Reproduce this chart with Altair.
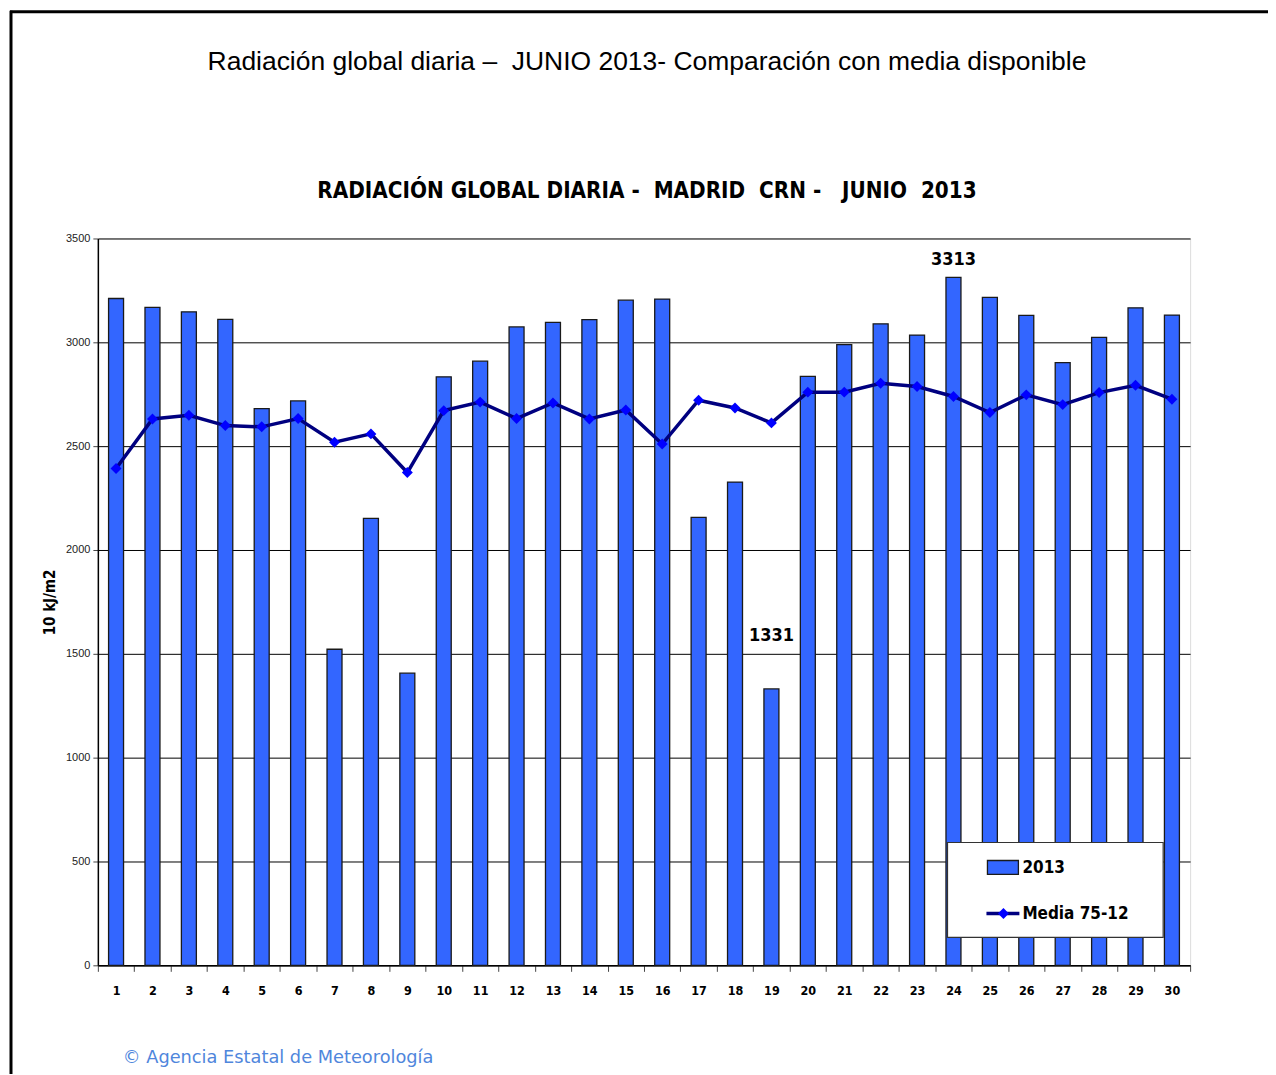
import altair as alt
import pandas as pd

# ---- data ----
dias = list(range(1, 31))
rad_2013 = [3211, 3168, 3147, 3110, 2681, 2718, 1522, 2152, 1407, 2834,
            2909, 3074, 3096, 3109, 3203, 3208, 2157, 2327, 1331, 2836,
            2989, 3089, 3035, 3313, 3216, 3130, 2902, 3024, 3166, 3131]
media_75_12 = [2392, 2631, 2649, 2599, 2593, 2633, 2519, 2559, 2373, 2671,
               2712, 2633, 2708, 2631, 2674, 2510, 2721, 2684, 2612, 2760,
               2760, 2803, 2787, 2739, 2662, 2747, 2700, 2758, 2793, 2726]
y_ticks = [0, 500, 1000, 1500, 2000, 2500, 3000, 3500]

NB = "\u00a0"
titulo = "Radiación global diaria –" + NB + " JUNIO 2013- Comparación con media disponible"
subtitulo = ("RADIACIÓN GLOBAL DIARIA -" + NB + " MADRID" + NB + " CRN -" + NB + NB +
             " JUNIO" + NB + " 2013")
y_titulo = "10 kJ/m2"
leyenda = ["2013", "Media 75-12"]
pie = "© Agencia Estatal de Meteorología"

df = pd.DataFrame({"dia": dias, "rad": rad_2013, "media": media_75_12})

NARROW = "DejaVu Sans Condensed, Liberation Sans Narrow, Liberation Sans"
ARIAL = "Liberation Sans, Arial"

W, H = 1094, 728

x = alt.X("dia:O", scale=alt.Scale(paddingInner=0, paddingOuter=0),
          axis=alt.Axis(title=None, labelAngle=0, labelFont=NARROW, labelFontSize=12.5,
                        labelFontWeight="bold", labelColor="black", labelPadding=13,
                        tickBand="extent", tickSize=6, tickColor="#444", domainColor="black",
                        domainWidth=1.5))
yscale = alt.Scale(domain=[0, 3500], nice=False)

bars = alt.Chart(df).mark_bar(size=15, fill="#3366FF", stroke="#1a1a1a", strokeWidth=1.3).encode(
    x=x,
    y=alt.Y("rad:Q", scale=yscale,
            axis=alt.Axis(values=y_ticks, format="d", title=y_titulo, titleFont=NARROW,
                          titleFontSize=15, titleFontWeight="bold", titleColor="black",
                          titlePadding=8, labelFont=ARIAL, labelFontSize=11, labelColor="#222",
                          grid=True, gridColor="black", gridWidth=1, tickSize=5,
                          tickColor="#444", domainColor="black", domainWidth=1.5,
                          labelPadding=3)),
)

line = alt.Chart(df).mark_line(color="#000080", strokeWidth=3.5).encode(
    x="dia:O", y=alt.Y("media:Q", scale=yscale))
pts = alt.Chart(df).mark_point(shape="diamond", filled=True, color="#0000FF", size=120, opacity=1).encode(
    x="dia:O", y=alt.Y("media:Q", scale=yscale))

lab_max = alt.Chart(df).transform_filter(alt.datum.dia == 24).mark_text(
    font=NARROW, fontSize=18, fontWeight="bold", baseline="bottom", dy=-8, color="black").encode(
    x="dia:O", y=alt.Y("rad:Q", scale=yscale), text="rad:Q")
lab_min = alt.Chart(df).transform_filter(alt.datum.dia == 19).mark_text(
    font=NARROW, fontSize=18, fontWeight="bold", baseline="bottom", dy=-44, color="black").encode(
    x="dia:O", y=alt.Y("rad:Q", scale=yscale), text="rad:Q")

one = pd.DataFrame({"t": [0]})

# frame around the whole figure
frame_left = alt.Chart(one).mark_rule(color="black", strokeWidth=3).encode(
    x=alt.value(-87), y=alt.value(-228), y2=alt.value(846))
frame_top = alt.Chart(one).mark_rule(color="black", strokeWidth=3).encode(
    x=alt.value(-88), x2=alt.value(1180), y=alt.value(-227))

t1 = alt.Chart(pd.DataFrame({"t": [titulo]})).mark_text(
    font=ARIAL, fontSize=26.5, color="black", align="center", baseline="middle").encode(
    x=alt.value(550), y=alt.value(-177), text="t:N")
t2 = alt.Chart(pd.DataFrame({"t": [subtitulo]})).mark_text(
    font=NARROW, fontSize=22.3, fontWeight="bold", color="black", align="center", baseline="middle").encode(
    x=alt.value(550), y=alt.value(-48), text="t:N")
foot = alt.Chart(pd.DataFrame({"t": [pie]})).mark_text(
    font="DejaVu Sans", fontSize=17.8, color="#4f86dc", align="left", baseline="middle").encode(
    x=alt.value(25), y=alt.value(821), text="t:N")

# legend box
leg_box = alt.Chart(one).mark_rect(fill="white", stroke="#333", strokeWidth=1.2).encode(
    x=alt.value(851), x2=alt.value(1067), y=alt.value(605), y2=alt.value(700))
leg_sw = alt.Chart(one).mark_rect(fill="#3366FF", stroke="#1a1a1a", strokeWidth=1.3).encode(
    x=alt.value(891), x2=alt.value(922), y=alt.value(623), y2=alt.value(637))
leg_ln = alt.Chart(one).mark_rule(color="#000080", strokeWidth=3.5).encode(
    x=alt.value(890), x2=alt.value(923), y=alt.value(676))
leg_pt = alt.Chart(one).mark_point(shape="diamond", filled=True, color="#0000FF", size=120, opacity=1).encode(
    x=alt.value(907), y=alt.value(676))
leg_txt = alt.Chart(pd.DataFrame({"t": leyenda, "yy": [631, 677]})).mark_text(
    font=NARROW, fontSize=17, fontWeight="bold", color="black", align="left", baseline="middle").encode(
    x=alt.value(926), y=alt.Y("yy:Q", scale=None), text="t:N")

chart = alt.layer(
    bars, line, pts, lab_max, lab_min,
    leg_box, leg_sw, leg_ln, leg_pt, leg_txt,
    t1, t2, foot, frame_left, frame_top,
).properties(
    width=W, height=H,
    autosize=alt.AutoSizeParams(type="none"),
    padding={"left": 90, "top": 230, "right": 78, "bottom": 108},
).configure_view(stroke="#9a9a9a", strokeWidth=1.2).configure(background="white")

chart.save("out.html", embed_options={"renderer": "svg", "actions": False})
